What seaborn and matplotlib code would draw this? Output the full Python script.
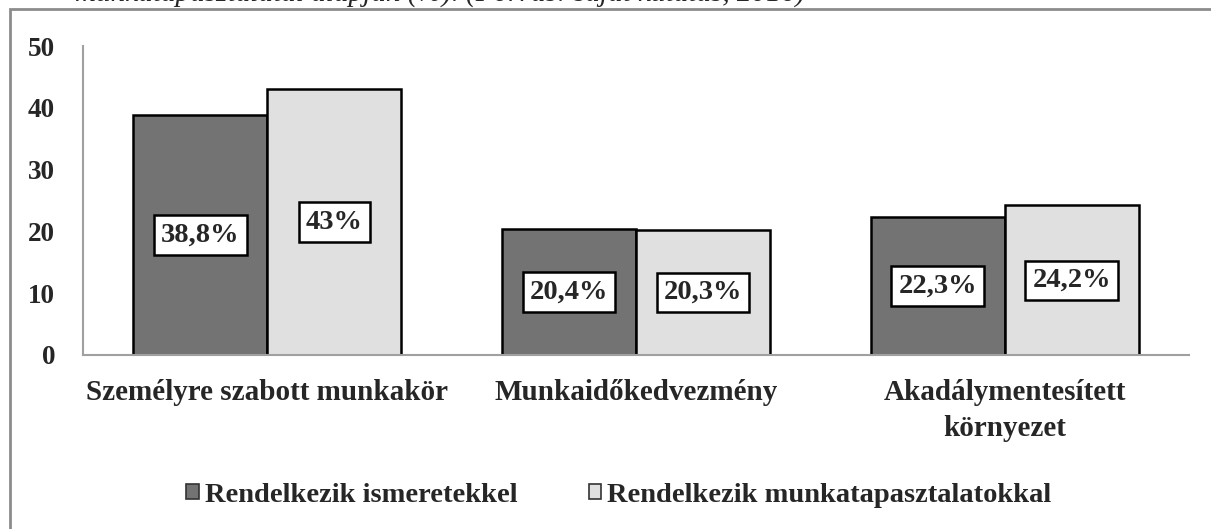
import pandas as pd
import matplotlib.pyplot as plt
import matplotlib.patches as mpatches
import seaborn as sns

# Data
categories = ['Személyre szabott munkakör', 'Munkaidőkedvezmény', 'Akadálymentesített\nkörnyezet']
groups = ['Rendelkezik ismeretekkel', 'Rendelkezik munkatapasztalatokkal']
ismeret = [38.8, 20.4, 22.3]
tapasztalat = [43.0, 20.3, 24.2]
yticks = [0, 10, 20, 30, 40, 50]
caption = 'munkatapasztalatai alapján (%). (Forrás: saját kutatás, 2016)'

df = pd.DataFrame({
    'kategoria': categories * 2,
    'csoport': [groups[0]] * 3 + [groups[1]] * 3,
    'ertek': ismeret + tapasztalat,
})

sns.set_style('white')
plt.rcParams['font.family'] = ['Liberation Serif', 'DejaVu Serif']
plt.rcParams['font.weight'] = 'bold'

fig = plt.figure(figsize=(12.11, 5.29), dpi=100)
ax = fig.add_axes([0.0685, 0.329, 0.9135, 0.584])

palette = ['#737373', '#e0e0e0']
sns.barplot(data=df, x='kategoria', y='ertek', hue='csoport', order=categories,
            hue_order=groups, palette=palette, width=0.727, gap=0,
            edgecolor='black', linewidth=1.8, saturation=1, ax=ax)

# value labels in white boxes at bar centres
for cont in ax.containers:
    labels = [f'{b.get_height():g}'.replace('.', ',') + '%' for b in cont]
    ax.bar_label(cont, labels=labels, label_type='center', fontsize=20.5,
                 fontweight='bold',
                 bbox=dict(boxstyle='square,pad=0.25', fc='white', ec='black', lw=1.8))

ax.set_ylim(0, 50)
ax.set_yticks(yticks)
ax.set_xlabel('')
ax.set_ylabel('')
ax.tick_params(axis='y', length=0, pad=20, labelsize=19.5)
ax.tick_params(axis='x', length=0, pad=17, labelsize=21)
for lab in ax.get_xticklabels() + ax.get_yticklabels():
    lab.set_fontweight('bold')
for lab in ax.get_xticklabels():
    lab.set_linespacing(1.45)
for side in ['top', 'right']:
    ax.spines[side].set_visible(False)
for side in ['left', 'bottom']:
    ax.spines[side].set_color('#a0a0a0')
    ax.spines[side].set_linewidth(1.5)

# legend below the plot
ax.legend_.remove()
handles = [mpatches.Patch(facecolor=c, edgecolor='#333333', lw=1.2) for c in palette]
fig.legend(handles, groups, loc='center', bbox_to_anchor=(0.511, 1 - 495 / 529),
           ncol=2, frameon=False, handlelength=0.45, handleheight=0.45,
           handletextpad=0.2, columnspacing=2.5, prop={'weight': 'bold', 'size': 20.5})

# outer frame (only top and left edges visible in the crop)
fig.add_artist(mpatches.Rectangle((10 / 1211, -0.1), 1.2, 1 - 9 / 529 + 0.1,
                                  transform=fig.transFigure, fill=False,
                                  ec='#8c8c8c', lw=2))

# caption above, cut off by the crop
fig.text(805 / 1211, 1 - 1 / 529, caption, ha='right', va='baseline', fontsize=21,
         style='italic', fontweight='normal')

fig.savefig('out.png', dpi=100)
